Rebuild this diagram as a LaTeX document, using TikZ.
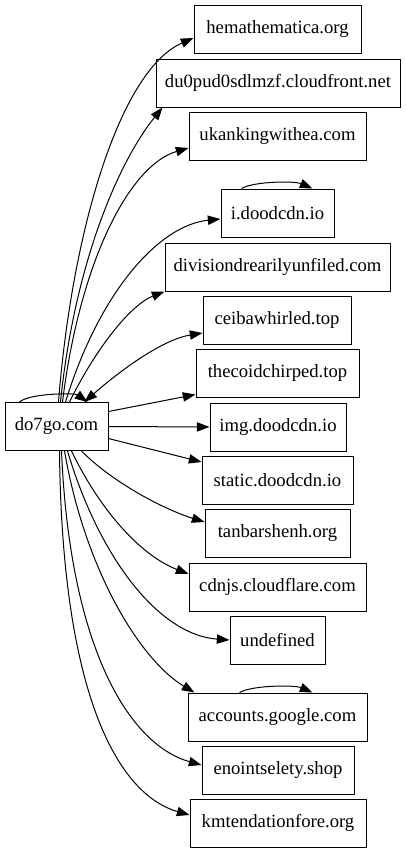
\documentclass[tikz,border=0pt]{standalone}
\usepackage{fontspec}
\setmainfont{Liberation Serif}
\usetikzlibrary{arrows.meta,calc}
\begin{document}
\begin{tikzpicture}[x=0.75pt,y=-0.75pt,
  box/.style={draw, rectangle, line width=0.75pt, minimum height=36pt, inner sep=0pt,
    font=\fontsize{14pt}{16pt}\selectfont},
  edg/.style={-{Triangle[length=9.5pt,width=7pt]}, line width=0.75pt},
  edgb/.style={{Triangle[length=9.5pt,width=7pt]}-{Triangle[length=9.5pt,width=7pt]}, line width=0.75pt}]
\useasboundingbox (0,0) rectangle (405,853);

\node[box, minimum width=103*0.75pt] (do) at (56.5,426.5) {do7go.com};
\node[box, minimum width=167*0.75pt] (hema) at (277.5,29) {hemathematica.org};
\node[box, minimum width=244*0.75pt] (du) at (278,83) {du0pud0sdlmzf.cloudfront.net};
\node[box, minimum width=177*0.75pt] (uk) at (277.5,136) {ukankingwithea.com};
\node[box, minimum width=113*0.75pt] (idood) at (277.5,213) {i.doodcdn.io};
\node[box, minimum width=225*0.75pt] (div) at (277.5,267) {divisiondrearilyunfiled.com};
\node[box, minimum width=148*0.75pt] (ceiba) at (277,320) {ceibawhirled.top};
\node[box, minimum width=163*0.75pt] (thec) at (277.5,373) {thecoidchirped.top};
\node[box, minimum width=136*0.75pt] (img) at (278,427) {img.doodcdn.io};
\node[box, minimum width=151*0.75pt] (stat) at (277.5,480) {static.doodcdn.io};
\node[box, minimum width=145*0.75pt] (tan) at (277.5,533) {tanbarshenh.org};
\node[box, minimum width=177*0.75pt] (cdn) at (277.5,587) {cdnjs.cloudflare.com};
\node[box, minimum width=95*0.75pt] (und) at (277.5,640) {undefined};
\node[box, minimum width=179*0.75pt] (acc) at (277.5,717) {accounts.google.com};
\node[box, minimum width=152*0.75pt] (eno) at (278,770) {enointselety.shop};
\node[box, minimum width=176*0.75pt] (km) at (278,823) {kmtendationfore.org};

% self loops
\draw[edg] ($(do.north west)+(15,0)$) .. controls (30,393) and (75,393) .. ($(do.north west)+(83,0)$);
\draw[edg] ($(idood.north west)+(21,0)$) .. controls (255,181) and (295,181) .. ($(idood.north west)+(92,0)$);
\draw[edg] ($(acc.north west)+(52,0)$) .. controls (253,685) and (295,685) .. ($(acc.north west)+(125,0)$);

% upward edges
\draw[edg] ($(do.north west)+(54,0)$) .. controls (72,230) and (120,70) .. ($(hema.west)+(0,9)$);
\draw[edg] ($(do.north west)+(56,0)$) .. controls (75,260) and (120,160) .. ($(du.south west)+(7,0)$);
\draw[edg] ($(do.north west)+(58,0)$) .. controls (80,260) and (130,165) .. ($(uk.west)+(0,12)$);
\draw[edg] ($(do.north west)+(61,0)$) .. controls (100,290) and (160,225) .. ($(idood.west)+(0,6)$);
\draw[edg] ($(do.north west)+(65,0)$) .. controls (95,350) and (130,305) .. (div.south west);
\draw[edgb] ($(do.north west)+(80,0)$) .. controls (115,375) and (160,340) .. ($(ceiba.west)+(0,13)$);

% near-horizontal edges
\draw[edg] ($(do.east)+(0,-15)$) -- ($(thec.south west)+(0,-3)$);
\draw[edg] (do.east) -- (img.west);
\draw[edg] ($(do.east)+(0,12)$) -- ($(stat.west)+(0,-18)$);

% downward edges
\draw[edg] ($(do.south west)+(77,0)$) .. controls (110,480) and (160,508) .. ($(tan.west)+(0,-11)$);
\draw[edg] ($(do.south west)+(67,0)$) .. controls (100,510) and (140,555) .. ($(cdn.west)+(0,-13)$);
\draw[edg] ($(do.south west)+(63,0)$) .. controls (100,560) and (160,635) .. (und.west);
\draw[edg] ($(do.south west)+(60,0)$) .. controls (85,570) and (140,660) .. ($(acc.north west)+(7,0)$);
\draw[edg] ($(do.south west)+(57,0)$) .. controls (70,650) and (130,745) .. ($(eno.west)+(0,-5)$);
\draw[edg] ($(do.south west)+(55,0)$) .. controls (62,700) and (120,795) .. ($(km.west)+(0,-8)$);
\end{tikzpicture}
\end{document}
